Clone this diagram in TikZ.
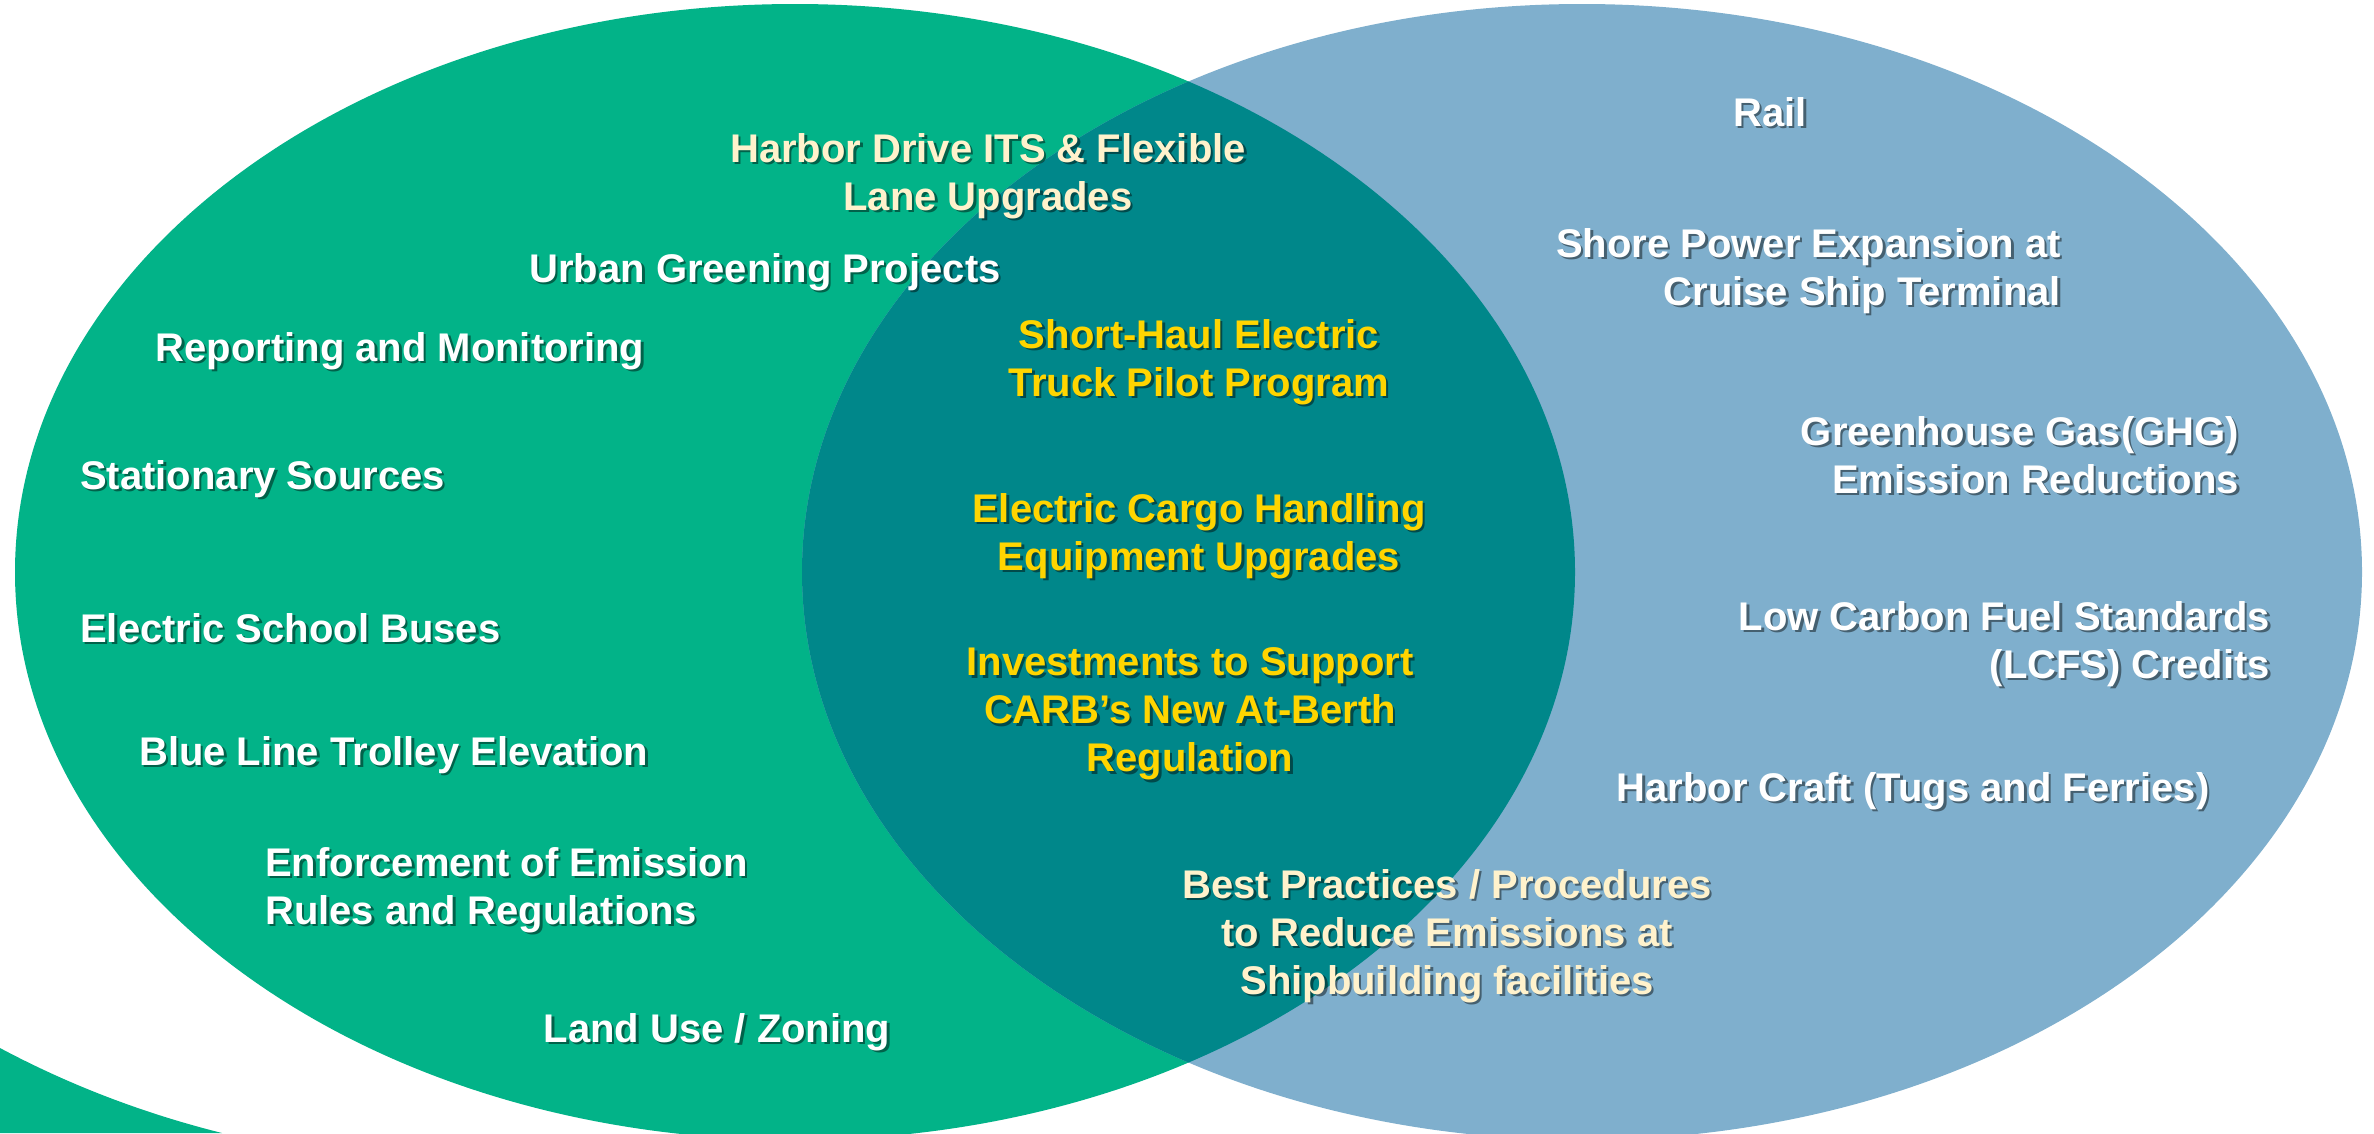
\documentclass[tikz,border=0pt]{standalone}
\usepackage{fontspec}
\setmainfont{Liberation Sans}
\begin{document}
\begin{tikzpicture}[x=1pt,y=-1pt]
\definecolor{vgreen}{HTML}{02B388}
\definecolor{vteal}{HTML}{00878A}
\definecolor{vblue}{HTML}{7FAFCD}
\definecolor{vcream}{HTML}{FFF2CC}
\definecolor{vyellow}{HTML}{FFD500}
\tikzset{
  lbl/.style={inner sep=0pt, font=\fontsize{40}{48}\selectfont\bfseries},
  shd/.style={lbl, text=black, opacity=0.45, xshift=2.5pt, yshift=-2.5pt},
}
\newcommand{\shlabel}[5]{%
  \node[shd, #3] at (#2) {#5};
  \node[lbl, #3, text=#4] (#1) at (#2) {#5};}
\useasboundingbox (0,0) rectangle (2374,1133);
\begin{scope}
\clip (0,0) rectangle (2374,1133);
\fill[vgreen] (0,1048) .. controls (75,1088) and (150,1115) .. (222,1133) -- (0,1133) -- cycle;
\fill[vgreen] (795,572) ellipse [x radius=780, y radius=568];
\fill[vblue] (1582,572) ellipse [x radius=780, y radius=568];
\begin{scope}
\clip (795,572) ellipse [x radius=780, y radius=568];
\fill[vteal] (1582,572) ellipse [x radius=780, y radius=568];
\end{scope}
\end{scope}
% green only
\shlabel{urban}{765,272}{}{white}{Urban Greening Projects}
\shlabel{report}{400,351}{}{white}{Reporting and Monitoring}
\shlabel{station}{80,479}{anchor=west}{white}{Stationary Sources}
\shlabel{school}{80,628}{anchor=west}{white}{Electric School Buses}
\shlabel{trolley}{139,755}{anchor=west}{white}{Blue Line Trolley Elevation}
\shlabel{enforce}{265,890}{anchor=west,align=left}{white}{Enforcement of Emission\\Rules and Regulations}
\shlabel{landuse}{717,1032}{}{white}{Land Use / Zoning}
% cream
\shlabel{harbor}{988,176}{align=center}{vcream}{Harbor Drive ITS \& Flexible\\Lane Upgrades}
\shlabel{best}{1447,936}{align=center}{vcream}{Best Practices / Procedures\\to Reduce Emissions at\\Shipbuilding facilities}
% overlap yellow
\shlabel{truck}{1199,362}{align=center}{vyellow}{Short-Haul Electric\\Truck Pilot Program}
\shlabel{cargo}{1199,536}{align=center}{vyellow}{Electric Cargo Handling\\Equipment Upgrades}
\shlabel{carb}{1190,714}{align=center}{vyellow}{Investments to Support\\CARB’s New At-Berth\\Regulation}
% blue only
\shlabel{rail}{1770,112}{}{white}{Rail}
\shlabel{shore}{2061,271}{anchor=east,align=right}{white}{Shore Power Expansion at\\Cruise Ship Terminal}
\shlabel{ghg}{2239,455}{anchor=east,align=right}{white}{Greenhouse Gas(GHG)\\Emission Reductions}
\shlabel{lcfs}{2270,644}{anchor=east,align=right}{white}{Low Carbon Fuel Standards\\(LCFS) Credits}
\shlabel{craft}{1913,791}{}{white}{Harbor Craft (Tugs and Ferries)}
\end{tikzpicture}
\end{document}
